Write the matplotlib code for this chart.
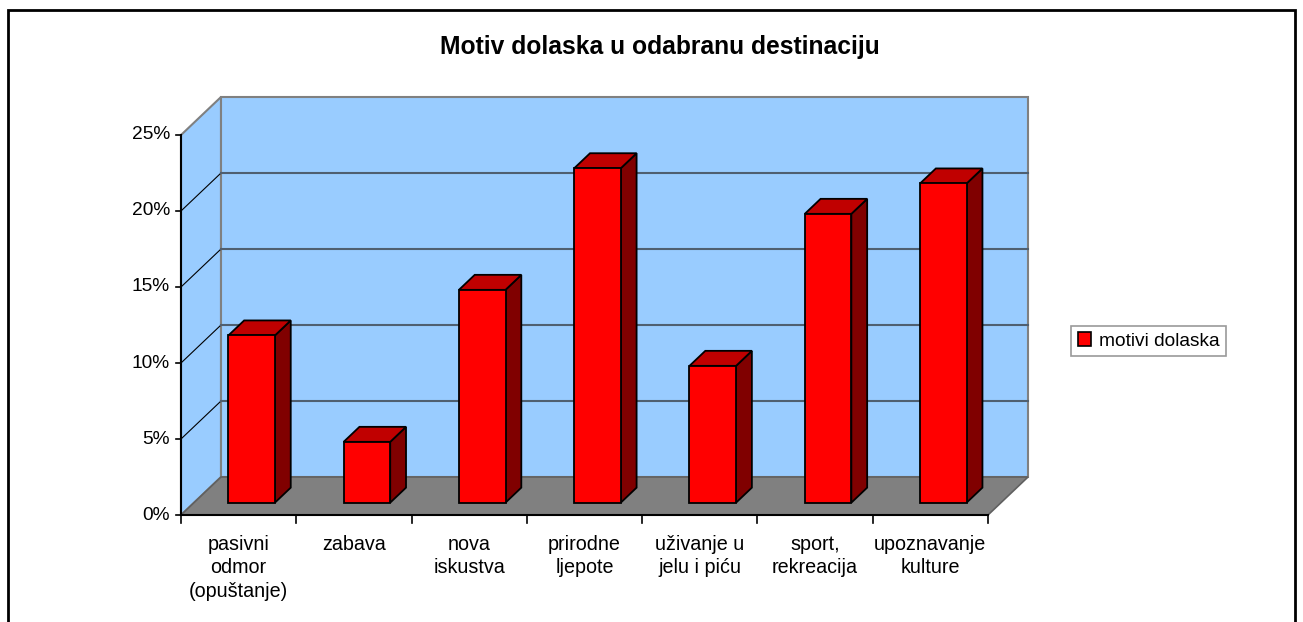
import matplotlib
matplotlib.use("Agg")
import matplotlib.pyplot as plt
from matplotlib.patches import Polygon, Rectangle, Patch
from matplotlib.lines import Line2D

plt.rcParams['font.family'] = ['Liberation Sans', 'DejaVu Sans']

# ---- data ----
categories = ["pasivni\nodmor\n(opuštanje)", "zabava", "nova\niskustva", "prirodne\nljepote",
              "uživanje u\njelu i piću", "sport,\nrekreacija", "upoznavanje\nkulture"]
values = [11, 4, 14, 22, 9, 19, 21]
y_ticks = [0, 5, 10, 15, 20, 25]
y_tick_labels = ["0%", "5%", "10%", "15%", "20%", "25%"]
series_name = "motivi dolaska"
title = "Motiv dolaska u odabranu destinaciju"

W, H = 1303, 622
fig = plt.figure(figsize=(W / 100, H / 100), dpi=100)
fig.patch.set_facecolor('white')

# outer frame
fig.add_artist(Rectangle((8 / W, -0.05), (1295 - 8) / W, (H - 10) / H + 0.05,
                         transform=fig.transFigure, fill=False, ec='black', lw=2))

# front plane of the 3D axes
ax = fig.add_axes([181 / W, (H - 515) / H, (988 - 181) / W, 380 / H])
n = len(categories)
ymax = 25
ax.set_xlim(0, n)
ax.set_ylim(0, ymax)
ax.axis('off')

# depth offset in data units (full depth)
DX = 40 / (807 / n)
DY = 38 / (380 / ymax)


def P(x, v, z):
    return (x + z * DX, v + z * DY)


def poly(pts, fc, ec, lw=1.0, z=1):
    ax.add_patch(Polygon(pts, closed=True, fc=fc, ec=ec, lw=lw, zorder=z, clip_on=False,
                         joinstyle='miter'))


wall = '#99CCFF'
# left wall
poly([P(0, 0, 0), P(0, ymax, 0), P(0, ymax, 1), P(0, 0, 1)], wall, '#808080', 1.5, 1)
# back wall
poly([P(0, 0, 1), P(n, 0, 1), P(n, ymax, 1), P(0, ymax, 1)], wall, '#808080', 1.5, 1)
# gridlines
for t in y_ticks[1:-1]:
    a, b = P(0, t, 0), P(0, t, 1)
    ax.add_line(Line2D([a[0], b[0]], [a[1], b[1]], color='black', lw=0.8, zorder=2, clip_on=False))
    c = P(n, t, 1)
    ax.add_line(Line2D([b[0], c[0]], [b[1], c[1]], color='#4f5f70', lw=1.5, zorder=2, clip_on=False))
# floor
poly([P(0, 0, 0), P(n, 0, 0), P(n, 0, 1), P(0, 0, 1)], '#808080', '#606060', 1.2, 3)

# axes lines
ax.add_line(Line2D([0, 0], [0, ymax], color='black', lw=1.5, zorder=4, clip_on=False))
ax.add_line(Line2D([0, n], [0, 0], color='black', lw=1.5, zorder=4, clip_on=False))
for t, lab in zip(y_ticks, y_tick_labels):
    ax.add_line(Line2D([-0.045, 0], [t, t], color='black', lw=1.2, zorder=4, clip_on=False))
    ax.text(-0.095, t, lab, ha='right', va='center', fontsize=13.8, color='black')
for i in range(n + 1):
    ax.add_line(Line2D([i, i], [0, -0.5], color='black', lw=1.2, zorder=4, clip_on=False))
for i, lab in enumerate(categories):
    ax.text(i + 0.5, -1.3, lab, ha='center', va='top', multialignment='center',
            fontsize=14.2, linespacing=1.3, color='black')

# bars
bw = 0.404
zf, zb = 0.325, 0.72
for i, v in enumerate(values):
    x0 = i + 0.5 - bw / 2
    x1 = i + 0.5 + bw / 2
    poly([P(x1, 0, zf), P(x1, 0, zb), P(x1, v, zb), P(x1, v, zf)], '#800000', 'black', 1.3, 5)
    poly([P(x0, v, zf), P(x1, v, zf), P(x1, v, zb), P(x0, v, zb)], '#C00000', 'black', 1.3, 5)
    poly([P(x0, 0, zf), P(x1, 0, zf), P(x1, v, zf), P(x0, v, zf)], '#FF0000', 'black', 1.3, 6)

# title
fig.text(660 / W, 1 - 47 / H, title, ha='center', va='center', fontsize=17.7, fontweight='bold')

# legend
handle = Patch(facecolor='#FF0000', edgecolor='black', lw=1.2)
leg = fig.legend([handle], [series_name], loc='center left',
                 bbox_to_anchor=(1071 / W, 1 - 341 / H), fontsize=13.8, frameon=True,
                 fancybox=False, borderpad=0.35, handlelength=0.7, handleheight=0.7,
                 handletextpad=0.4, borderaxespad=0)
leg.get_frame().set_edgecolor('#808080')
leg.get_frame().set_linewidth(1.2)

fig.savefig('out.png', dpi=100)
